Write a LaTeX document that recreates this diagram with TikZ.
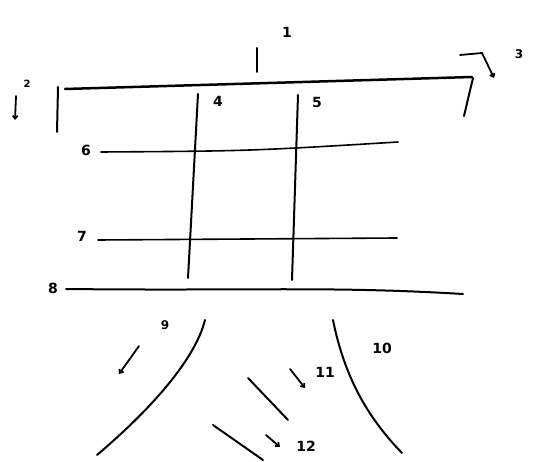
\documentclass[tikz,border=0pt]{standalone}
\usepackage{fontspec}
\setmainfont{DejaVu Sans}
\usetikzlibrary{arrows.meta}
\begin{document}
\begin{tikzpicture}[x=1pt,y=-1pt,
  stroke/.style={line width=2pt,line cap=round,black},
  thin stroke/.style={line width=1.6pt,line cap=round,black},
  lbl/.style={font=\bfseries\fontsize{14}{14}\selectfont,inner sep=0pt},
  small lbl/.style={font=\bfseries\fontsize{12}{12}\selectfont,inner sep=0pt},
  ptr/.style={line width=1.8pt,line cap=round,-{Straight Barb[length=3pt,width=5pt]}}]
\useasboundingbox (0,0) rectangle (533,462);
% main lines
\coordinate (t1) at (65,89); \coordinate (t2) at (472,77);
\draw[stroke,line width=2.5pt] (t1) -- (t2);
\coordinate (lv1) at (58,87); \coordinate (lv2) at (57,132);
\draw[stroke] (lv1) -- (lv2);
\coordinate (rv1) at (473,78); \coordinate (rv2) at (464,116);
\draw[stroke] (rv1) -- (rv2);
\coordinate (v4a) at (198,94); \coordinate (v4b) at (188,278);
\draw[stroke] (v4a) -- (v4b);
\coordinate (v5a) at (298,95); \coordinate (v5b) at (292,280);
\draw[stroke] (v5a) -- (v5b);
\coordinate (h6a) at (101,152); \coordinate (h6b) at (398,142);
\draw[thin stroke] (h6a) .. controls (250,151) .. (h6b);
\coordinate (h7a) at (98,240); \coordinate (h7b) at (397,238);
\draw[thin stroke] (h7a) -- (h7b);
\coordinate (h8a) at (66,289); \coordinate (h8b) at (463,294);
\draw[stroke] (h8a) .. controls (250,291) and (330,286) .. (h8b);
% lower curves
\coordinate (c9a) at (205,320); \coordinate (c9b) at (97,455);
\draw[stroke] (c9a) .. controls (195,360) and (150,410) .. (c9b);
\coordinate (c10a) at (333,320); \coordinate (c10b) at (402,453);
\draw[stroke] (c10a) .. controls (345,380) and (370,420) .. (c10b);
\coordinate (l11a) at (248,378); \coordinate (l11b) at (288,420);
\draw[stroke] (l11a) -- (l11b);
\coordinate (l12a) at (213,425); \coordinate (l12b) at (263,460);
\draw[stroke] (l12a) -- (l12b);
% labels
\coordinate (k1a) at (257,48); \coordinate (k1b) at (257,72);
\draw[stroke] (k1a) -- (k1b);
\node[lbl] (n1) at (287,32) {1};
\coordinate (a2a) at (16,96); \coordinate (a2b) at (15,120);
\draw[ptr] (a2a) -- (a2b);
\node[small lbl,font=\bfseries\fontsize{10}{10}\selectfont] (n2) at (27,84) {2};
\coordinate (a3a) at (460,55); \coordinate (a3m) at (482,53); \coordinate (a3b) at (494,78);
\draw[ptr] (a3a) -- (a3m) -- (a3b);
\node[small lbl] (n3) at (519,54) {3};
\node[lbl] (n4) at (218,101) {4};
\node[lbl] (n5) at (317,102) {5};
\node[lbl] (n6) at (86,150) {6};
\node[lbl] (n7) at (82,236) {7};
\node[lbl] (n8) at (53,288) {8};
\node[small lbl] (n9) at (165,325) {9};
\coordinate (a9a) at (139,346); \coordinate (a9b) at (119,374);
\draw[ptr] (a9a) -- (a9b);
\node[lbl] (n10) at (382,348) {10};
\coordinate (a11a) at (290,369); \coordinate (a11b) at (305,388);
\draw[ptr] (a11a) -- (a11b);
\node[lbl] (n11) at (325,372) {11};
\coordinate (a12a) at (266,435); \coordinate (a12b) at (280,447);
\draw[ptr] (a12a) -- (a12b);
\node[lbl] (n12) at (306,446) {12};
\end{tikzpicture}
\end{document}
